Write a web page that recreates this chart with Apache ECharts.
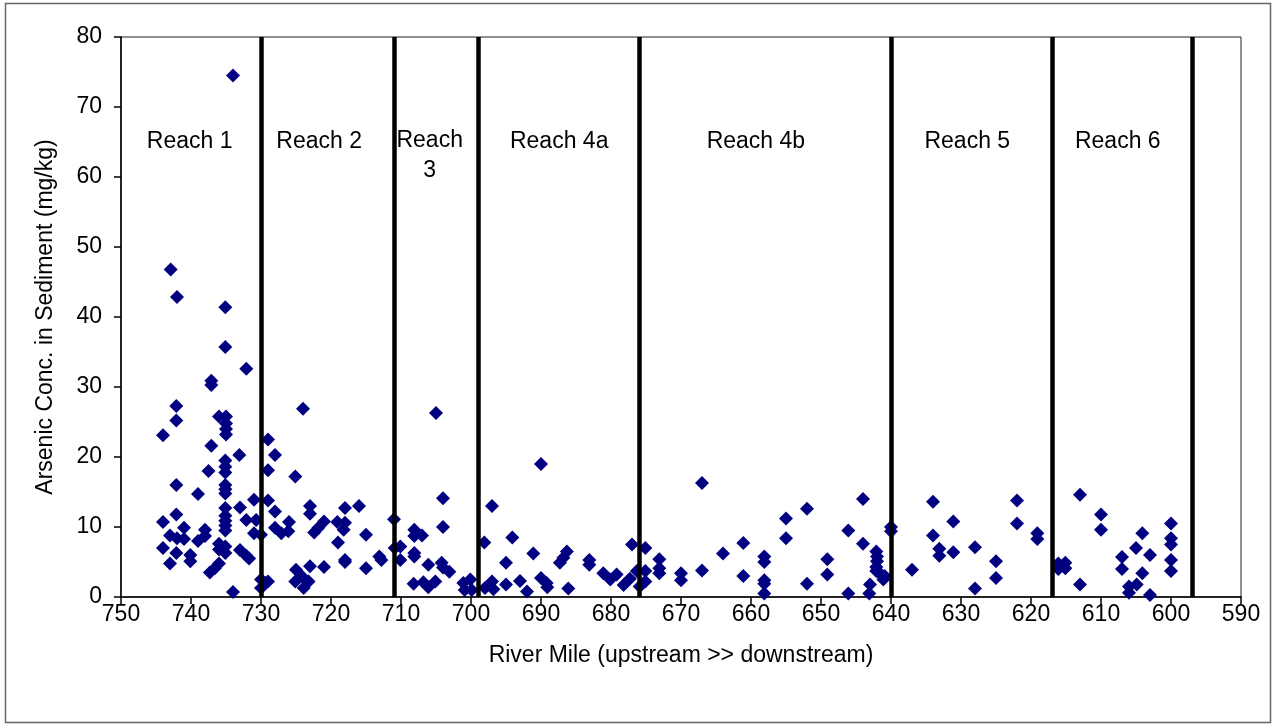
<!DOCTYPE html>
<html>
<head>
<meta charset="utf-8">
<script src="https://cdn.jsdelivr.net/npm/echarts@6/dist/echarts.min.js"></script>
<style>
html,body{margin:0;padding:0;background:#fff;}
#chart{width:1277px;height:728px;}
</style>
</head>
<body>
<div id="chart"></div>
<script>
// River mile of each sediment sample
const riverMile = [
  734.0,742.9,742.0,735.1,735.1,732.1,737.1,737.1,742.1,742.1,744.0,736.0,735.0,735.0,735.0,735.0,
  737.1,733.1,735.1,735.1,735.1,737.5,742.1,735.1,735.1,735.1,739.0,731.0,735.1,733.0,735.1,735.1,
  735.1,735.1,732.1,730.7,744.0,742.1,741.0,743.0,742.0,741.0,739.0,738.0,738.0,731.0,730.0,744.0,
  742.1,740.1,740.1,736.0,735.1,735.1,736.0,733.0,732.1,731.7,743.0,737.3,736.6,736.0,734.0,730.0,729.4,730.0,
  // Reach 2
  729.0,728.0,729.0,724.0,725.1,729.0,728.0,723.0,723.0,718.0,716.0,726.0,721.0,721.8,722.4,719.1,
  718.2,718.0,728.0,727.1,726.1,715.0,719.0,718.0,718.0,715.0,713.1,712.8,725.0,723.0,721.0,725.1,
  724.1,723.2,723.9,729.0,
  // Reach 3
  711.0,710.1,710.9,710.1,705.0,704.0,704.0,708.1,708.1,707.0,708.1,708.1,706.1,704.2,704.0,703.1,
  708.2,706.8,706.1,705.1,701.1,700.1,700.9,699.9,
  // Reach 4a
  698.1,697.0,698.0,697.0,696.8,695.0,695.0,694.1,693.0,692.0,690.0,691.1,690.0,689.2,689.1,687.3,
  686.3,686.8,686.1,683.1,683.1,681.1,680.1,679.2,678.2,677.3,676.3,677.0,
  // Reach 4b
  675.1,673.1,673.1,673.1,675.1,675.1,675.9,670.0,670.0,667.0,667.0,664.0,661.1,661.1,658.1,658.1,
  658.1,658.1,658.1,655.0,655.0,652.0,652.0,649.1,649.1,646.1,646.1,644.0,644.0,642.1,642.0,642.0,
  642.1,642.1,641.6,640.9,641.1,643.0,643.1,640.0,640.0,
  // Reach 5 and 6
  637.0,634.0,634.0,633.1,633.1,631.1,631.1,628.0,628.0,625.0,625.0,622.0,622.0,619.1,619.1,616.1,
  615.1,616.1,615.1,613.0,613.0,610.0,610.0,607.0,607.0,606.0,604.9,606.0,605.0,604.1,604.1,603.0,
  603.0,600.0,600.0,600.0,600.0,600.0
];
// Arsenic concentration (mg/kg) for each sample, same order
const arsenic = [
  74.5,46.8,42.85,41.4,35.7,32.6,30.9,30.3,27.3,25.2,23.1,25.8,25.8,24.8,24.0,23.2,
  21.6,20.3,19.5,18.6,17.8,18.0,16.0,16.0,15.4,14.8,14.7,13.9,12.7,12.8,11.6,10.9,
  10.2,9.5,11.0,11.0,10.7,11.8,9.9,8.8,8.4,8.3,8.0,9.6,8.7,9.1,8.9,7.0,
  6.3,6.0,5.1,7.6,7.2,6.3,6.8,6.7,5.9,5.5,4.8,3.5,4.1,4.8,0.7,2.5,2.0,1.3,
  22.5,20.3,18.1,26.9,17.2,13.8,12.2,13.0,11.9,12.7,13.0,10.7,10.8,9.9,9.2,10.7,
  9.6,10.6,9.9,9.1,9.4,8.9,7.8,5.3,5.0,4.1,5.8,5.3,3.9,4.4,4.3,2.2,
  2.9,2.2,1.3,2.2,
  11.1,7.2,7.0,5.3,26.3,14.1,10.0,9.6,8.7,8.8,6.3,5.8,4.6,4.9,4.2,3.6,
  1.9,2.1,1.4,2.2,2.0,2.5,1.0,1.0,
  7.8,13.0,1.3,2.2,1.1,4.9,1.8,8.5,2.3,0.8,19.0,6.2,2.7,2.0,1.4,4.9,
  6.5,5.6,1.2,5.3,4.6,3.4,2.5,3.2,1.7,2.6,3.7,7.5,
  7.0,5.4,4.1,3.4,3.7,2.2,1.5,3.4,2.4,16.3,3.8,6.2,7.7,3.0,5.8,5.0,
  2.4,1.9,0.5,11.2,8.4,12.6,1.9,5.4,3.2,9.5,0.5,14.0,7.6,6.5,5.8,5.1,
  4.3,3.7,3.4,3.0,2.5,1.8,0.5,10.0,9.4,
  3.9,13.6,8.8,6.9,5.9,10.8,6.4,7.1,1.2,5.1,2.7,13.8,10.5,9.1,8.3,4.8,
  4.9,4.0,4.1,14.6,1.8,11.8,9.6,5.7,4.0,1.5,1.8,0.6,7.0,9.1,3.4,6.0,
  0.3,10.5,8.4,7.5,5.3,3.7
];
// Reach boundaries (river miles)
const reachBoundaries = [730, 711, 699, 676, 640, 617, 597];
// Reach labels and where they sit (river mile, concentration)
const reachNames = ['Reach 1', 'Reach 2', 'Reach\n3', 'Reach 4a', 'Reach 4b', 'Reach 5', 'Reach 6'];
const reachLabelMiles = [740.2, 721.7, 705.9, 687.4, 659.3, 629.1, 607.6];
const reachLabelConc = [65.1, 65.1, 63.0, 65.1, 65.1, 65.1, 65.1];
// Axis ranges
const xMin = 590, xMax = 750, xStep = 10;
const yMin = 0, yMax = 80, yStep = 10;

const points = riverMile.map((m, i) => [m, arsenic[i]]);
const labelPts = reachNames.map((n, i) => ({ name: n, value: [reachLabelMiles[i], reachLabelConc[i]] }));

const FONT = '"Liberation Sans", Arial, sans-serif';
const chart = echarts.init(document.getElementById('chart'), null, { renderer: 'canvas' });
chart.setOption({
  animation: false,
  backgroundColor: '#fff',
  graphic: [{
    type: 'rect', shape: { x: 5.5, y: 3.5, width: 1265, height: 719 },
    style: { fill: 'none', stroke: '#666', lineWidth: 1.5 }, z: 0
  }],
  grid: { left: 121, right: 36, top: 37, bottom: 131, show: true, borderColor: '#222', borderWidth: 1, backgroundColor: 'transparent' },
  xAxis: {
    type: 'value', inverse: true, min: xMin, max: xMax, interval: xStep,
    name: 'River Mile (upstream >> downstream)', nameLocation: 'middle', nameGap: 47,
    nameTextStyle: { fontFamily: FONT, fontSize: 23, color: '#000' },
    axisLine: { lineStyle: { color: '#000', width: 1.5 } },
    axisTick: { show: true, length: 7, lineStyle: { color: '#000', width: 1.5 } },
    axisLabel: { fontFamily: FONT, fontSize: 23, color: '#000', margin: 6 },
    splitLine: { show: false }
  },
  yAxis: {
    type: 'value', min: yMin, max: yMax, interval: yStep,
    name: 'Arsenic Conc. in Sediment (mg/kg)', nameLocation: 'middle', nameGap: 64,
    nameTextStyle: { fontFamily: FONT, fontSize: 23, color: '#000' },
    axisLine: { show: true, lineStyle: { color: '#000', width: 1.5 } },
    axisTick: { show: true, length: 7, lineStyle: { color: '#000', width: 1.5 } },
    axisLabel: { fontFamily: FONT, fontSize: 23, color: '#000', margin: 19 },
    splitLine: { show: false }
  },
  series: [
    {
      type: 'scatter', name: 'boundaries', data: [], silent: true,
      markLine: {
        silent: true, symbol: ['none', 'none'], animation: false,
        label: { show: false },
        lineStyle: { color: '#000', width: 4.5, type: 'solid', opacity: 1 },
        data: reachBoundaries.map(b => ({ xAxis: b }))
      }
    },
    {
      type: 'scatter', name: 'Arsenic', data: points,
      symbol: 'diamond', symbolSize: 14,
      itemStyle: { color: '#000080', opacity: 1 }, z: 3
    },
    {
      type: 'scatter', name: 'labels', data: labelPts, symbolSize: 0, silent: true,
      itemStyle: { opacity: 0 },
      label: {
        show: true, position: 'inside', formatter: p => p.name,
        fontFamily: FONT, fontSize: 23, color: '#000', opacity: 1, textBorderWidth: 0,
        lineHeight: 30, align: 'center', verticalAlign: 'middle'
      }
    }
  ]
});
</script>
</body>
</html>
